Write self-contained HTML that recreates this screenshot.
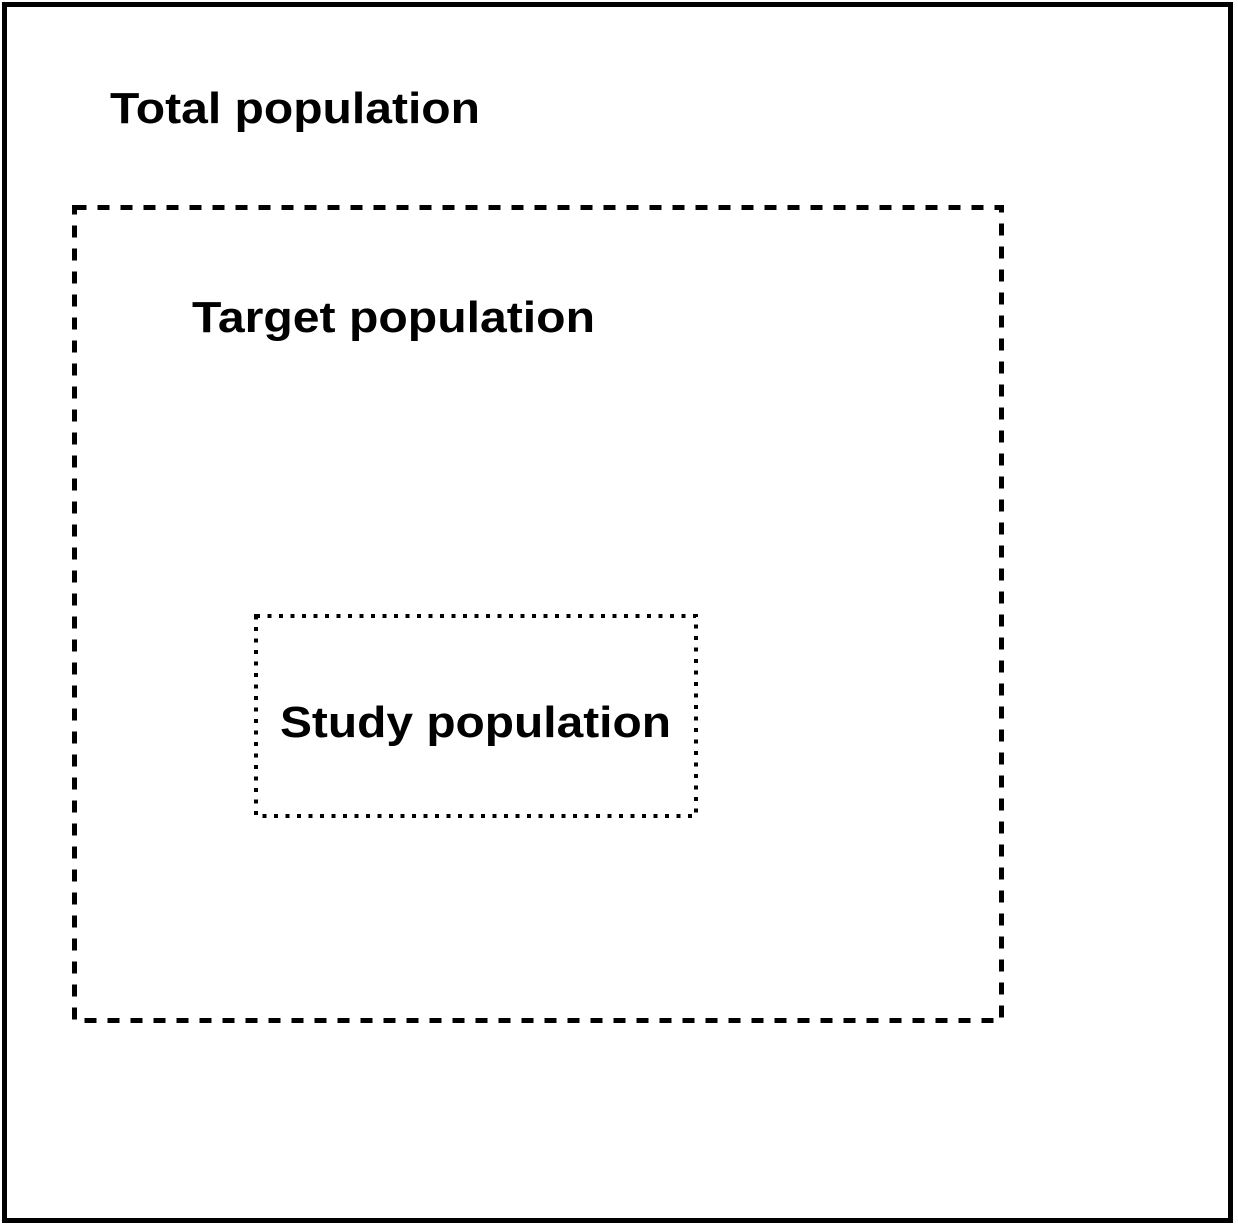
<!DOCTYPE html>
<html><head><meta charset="utf-8"><style>
html,body{margin:0;padding:0;background:#fff;}
svg{display:block;}
text{font-family:"Liberation Sans",sans-serif;font-weight:bold;font-size:44px;fill:#000;}
</style></head><body>
<svg width="1238" height="1226">
<rect x="4.5" y="4.5" width="1226" height="1216" fill="none" stroke="#000" stroke-width="5"/>
<text x="110" y="123" textLength="370" lengthAdjust="spacingAndGlyphs">Total population</text>
<rect x="74.5" y="207.5" width="927" height="813" fill="none" stroke="#000" stroke-width="5" stroke-dasharray="12 11"/>
<text x="192" y="332" textLength="403" lengthAdjust="spacingAndGlyphs">Target population</text>
<rect x="256" y="616" width="440" height="200" fill="none" stroke="#000" stroke-width="4" stroke-dasharray="4 7.5"/>
<text x="280" y="737" textLength="391" lengthAdjust="spacingAndGlyphs">Study population</text>
</svg>
</body></html>
